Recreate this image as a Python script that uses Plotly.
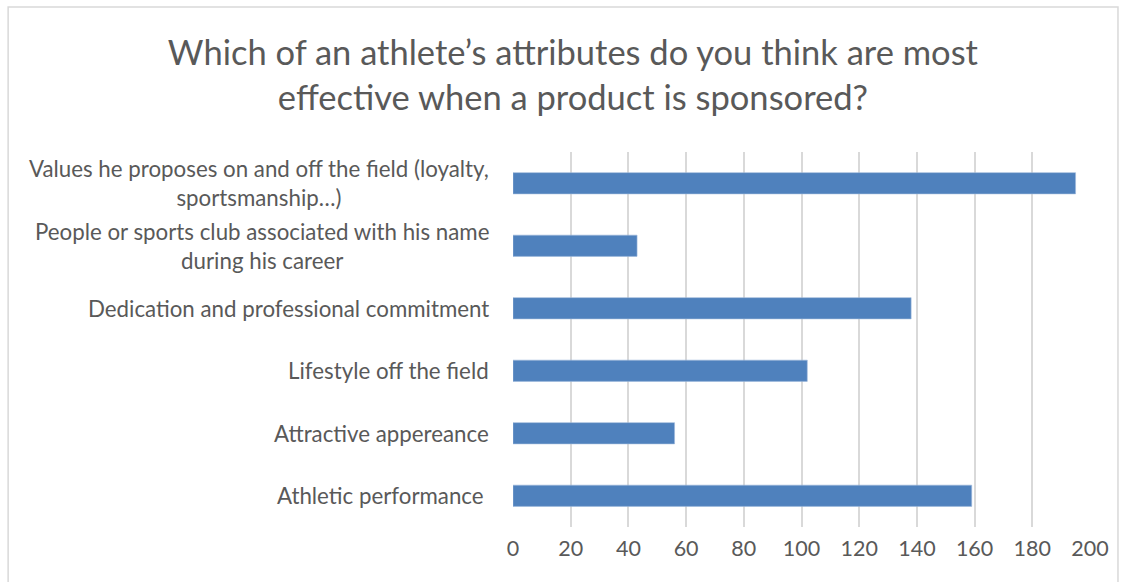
import plotly.graph_objects as go

# Survey answers, listed bottom to top as they appear on the axis
categories = [
    "Athletic performance\u00a0",
    "Attractive appereance",
    "Lifestyle off the field",
    "Dedication and professional commitment",
    "People or sports club associated with his name<br>during his career",
    "Values he proposes on and off the field (loyalty,<br>sportsmanship…)",
]
counts = [159, 56, 102, 138, 43, 195]
x_ticks = [0, 20, 40, 60, 80, 100, 120, 140, 160, 180, 200]

title_text = ("Which of an athlete\u2019s attributes do you think are most<br>"
              "effective when a product is sponsored?")

FONT = "Lato, Open Sans, sans-serif"
TEXT_COLOR = "#595959"
GRID_COLOR = "#D9D9D9"
BAR_COLOR = "#4F81BD"

fig = go.Figure(
    go.Bar(
        x=counts,
        y=categories,
        orientation="h",
        marker=dict(color=BAR_COLOR, line=dict(color="#9DB8DC", width=0.6)),
        width=0.34,
    )
)

# Category labels as centred multi-line annotations left of the plot
for cat in categories:
    fig.add_annotation(
        x=0, xref="paper", xanchor="right", xshift=-22,
        y=cat, yref="y", yanchor="middle",
        text=cat, showarrow=False, align="center",
        font=dict(family=FONT, size=22.3, color=TEXT_COLOR),
    )

# Chart area frame
fig.add_shape(
    type="rect", xref="paper", yref="paper",
    x0=-0.875, x1=1.0485, y0=-0.3, y1=1.387,
    line=dict(color=GRID_COLOR, width=1.5), layer="below",
)

fig.update_layout(
    width=1130, height=582,
    margin=dict(l=513, r=40, t=152, b=55),
    paper_bgcolor="white", plot_bgcolor="white",
    showlegend=False,
    title=dict(
        text=title_text, x=0.507, xref="container", xanchor="center",
        y=0.888, yref="container", yanchor="middle",
        font=dict(family=FONT, size=34.5, color=TEXT_COLOR),
    ),
    xaxis=dict(
        range=[0, 200], tickvals=x_ticks, showgrid=True,
        gridcolor=GRID_COLOR, gridwidth=1.5, zeroline=False,
        showline=False, ticks="", ticklabelstandoff=6,
        tickfont=dict(family=FONT, size=21.5, color=TEXT_COLOR),
    ),
    yaxis=dict(showticklabels=False, showgrid=False, zeroline=False,
               showline=False, ticks=""),
)

fig.write_html("out.html")
